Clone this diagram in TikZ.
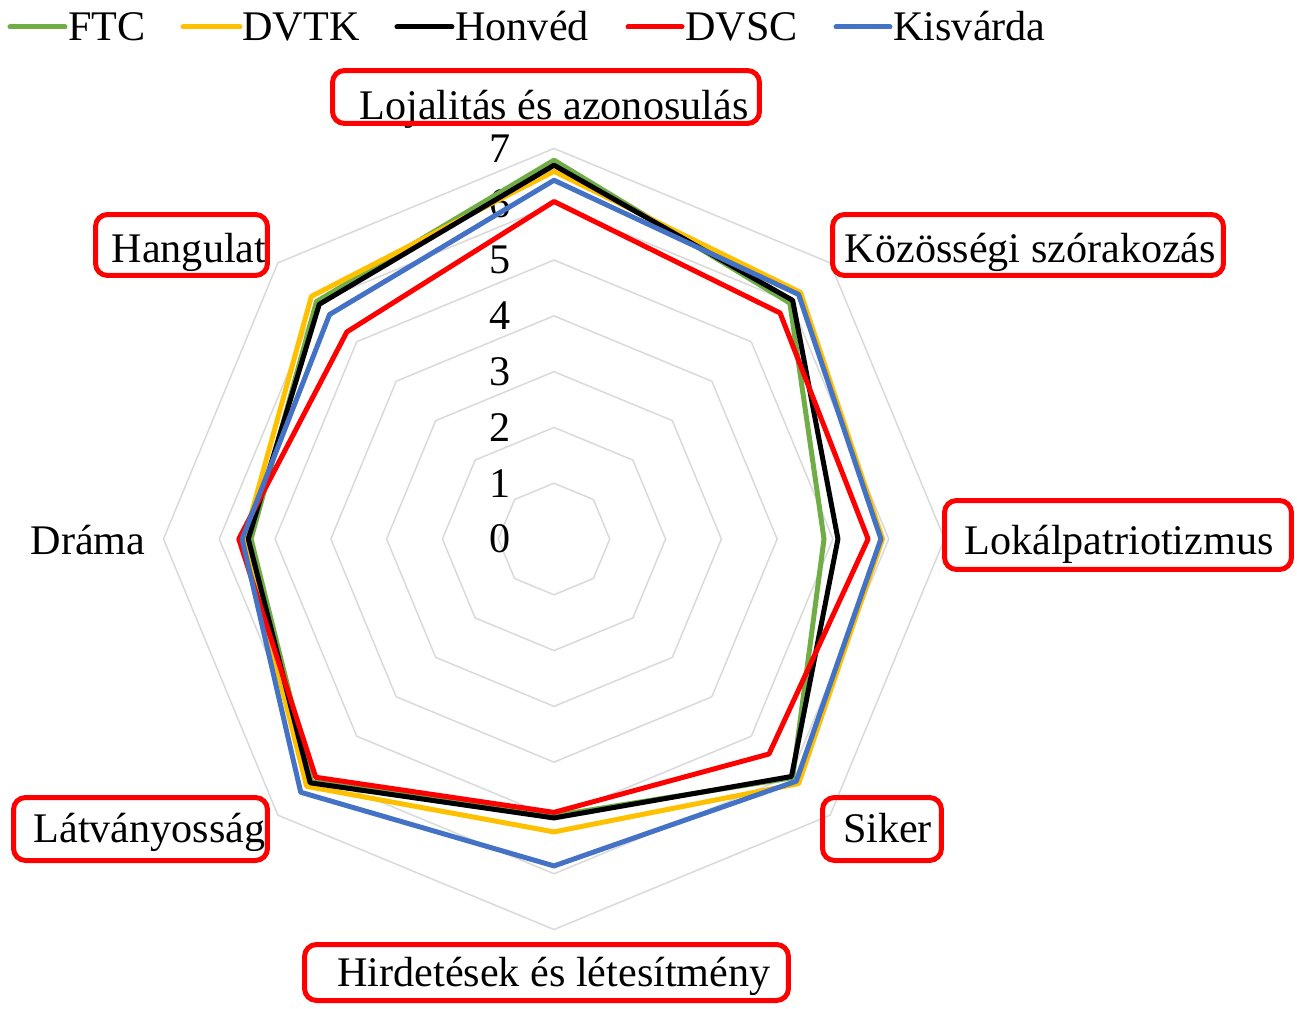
\documentclass[tikz,border=0pt]{standalone}
\usepackage{fontspec}
\setmainfont{Liberation Serif}
\definecolor{ftcgreen}{RGB}{112,173,71}
\definecolor{dvtkyellow}{RGB}{255,192,0}
\definecolor{dvscred}{RGB}{255,0,0}
\definecolor{kisblue}{RGB}{68,114,196}
\definecolor{gridgray}{RGB}{217,217,217}
\usetikzlibrary{positioning}

\begin{document}
\begin{tikzpicture}[x=0.02cm,y=0.02cm,
  font=\fontsize{24}{28}\selectfont,
  gridline/.style={gridgray,line width=0.03cm,line join=round},
  series/.style={line width=0.1cm,line join=round},
  legline/.style={line width=0.1cm,line cap=round},
  legtext/.style={anchor=base west,inner sep=0pt},
  axislabel/.style={anchor=base,inner sep=0pt},
  redbox/.style={draw=dvscred,line width=0.1cm,rounded corners=0.24cm,inner sep=0pt},
  scalelabel/.style={inner sep=0pt}
]
  \useasboundingbox (-554,-469) rectangle (743,539);

  % Legend
  \draw[legline,ftcgreen] (-544,512) -- (-489,512);
  \node[legtext] (legFTC) at (-486,498) {FTC};
  \draw[legline,dvtkyellow] (-371,512) -- (-314,512);
  \node[legtext] (legDVTK) at (-312,498) {DVTK};
  \draw[legline,black] (-157,512) -- (-102,512);
  \node[legtext] (legHonved) at (-99,498) {Honvéd};
  \draw[legline,dvscred] (74,512) -- (128,512);
  \node[legtext] (legDVSC) at (131,498) {DVSC};
  \draw[legline,kisblue] (282,512) -- (336,512);
  \node[legtext] (legKisvarda) at (339,498) {Kisvárda};

  % Grid octagons and scale
  \begin{scope}[x=1.116cm,y=1.116cm]
    \foreach \k in {1,...,7}
      \draw[gridline] (90:\k) \foreach \a in {45,0,-45,-90,-135,180,135} {-- (\a:\k)} -- cycle;
  \end{scope}
  \foreach \k in {0,...,7}
    \node[scalelabel] (v\k) at (-54,\k*55.8) {\k};

  % Series
  \begin{scope}[x=1.116cm,y=1.116cm]
    \draw[series,ftcgreen] (90:6.79) -- (45:5.98) -- (0:4.84) -- (-45:6.05)
      -- (-90:4.96) -- (-135:6.15) -- (180:5.43) -- (135:6.02) -- cycle;
    \draw[series,dvtkyellow] (90:6.59) -- (45:6.25) -- (0:5.89) -- (-45:6.2)
      -- (-90:5.25) -- (-135:6.27) -- (180:5.55) -- (135:6.15) -- cycle;
    \draw[series,black] (90:6.7) -- (45:6.05) -- (0:5.09) -- (-45:6.02)
      -- (-90:5.0) -- (-135:6.18) -- (180:5.48) -- (135:5.95) -- cycle;
    \draw[series,dvscred] (90:6.05) -- (45:5.73) -- (0:5.63) -- (-45:5.45)
      -- (-90:4.9) -- (-135:6.04) -- (180:5.65) -- (135:5.25) -- cycle;
    \draw[series,kisblue] (90:6.43) -- (45:6.2) -- (0:5.86) -- (-45:6.14)
      -- (-90:5.86) -- (-135:6.42) -- (180:5.59) -- (135:5.69) -- cycle;
  \end{scope}

  % Axis labels
  \node[axislabel] (lojal) at (0,419) {Lojalitás és azonosulás};
  \node[axislabel] (kozos) at (476.5,276) {Közösségi szórakozás};
  \node[axislabel] (lokal) at (565,-15) {Lokálpatriotizmus};
  \node[axislabel] (siker) at (333.5,-303) {Siker};
  \node[axislabel] (hirdet) at (0,-447) {Hirdetések és létesítmény};
  \node[axislabel] (latv) at (-404.5,-303) {Látványosság};
  \node[axislabel] (drama) at (-466,-15) {Dráma};
  \node[axislabel] (hang) at (-365,276) {Hangulat};

  % Highlight boxes
  \node[redbox,minimum width=8.54cm,minimum height=1.06cm] (lojalbox) at (-8,442) {};
  \node[redbox,minimum width=7.82cm,minimum height=1.22cm] (kozosbox) at (474,294) {};
  \node[redbox,minimum width=6.94cm,minimum height=1.38cm] (lokalbox) at (564,4) {};
  \node[redbox,minimum width=2.38cm,minimum height=1.26cm] (sikerbox) at (328,-290) {};
  \node[redbox,minimum width=9.68cm,minimum height=1.12cm] (hirdetbox) at (-7.5,-433.5) {};
  \node[redbox,minimum width=5.08cm,minimum height=1.26cm] (latvbox) at (-413.5,-290) {};
  \node[redbox,minimum width=3.44cm,minimum height=1.22cm] (hangbox) at (-372.5,294) {};
\end{tikzpicture}
\end{document}
